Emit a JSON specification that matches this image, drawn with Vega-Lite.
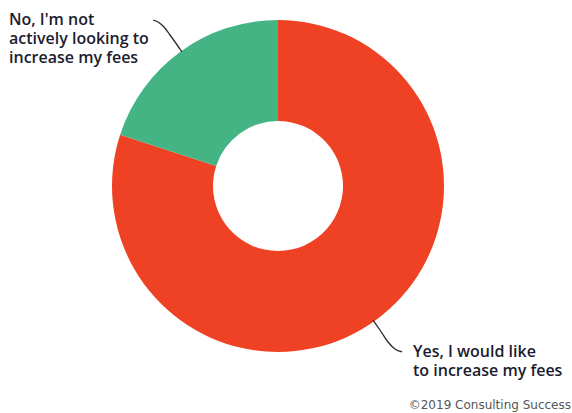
{
  "$schema": "https://vega.github.io/schema/vega-lite/v6.json",
  "width": 572,
  "height": 413,
  "padding": 0,
  "autosize": {"type": "none"},
  "background": "white",
  "config": {"view": {"stroke": null}},
  "datasets": {
    "slices": [
      {"answer": "Yes, I would like to increase my fees", "value": 80, "order": 1, "cx": 278, "cy": 186},
      {"answer": "No, I'm not actively looking to increase my fees", "value": 20, "order": 2, "cx": 278, "cy": 186}
    ],
    "labels": [
      {"text": ["No, I'm not", "actively looking to", "increase my fees"], "x": 9, "y": 12},
      {"text": ["Yes, I would like", "to increase my fees"], "x": 413, "y": 344}
    ],
    "leaders": [
      {"id": "no", "x": 153, "y": 20},
      {"id": "no", "x": 158, "y": 22},
      {"id": "no", "x": 163, "y": 26},
      {"id": "no", "x": 170, "y": 35},
      {"id": "no", "x": 182, "y": 52},
      {"id": "yes", "x": 373, "y": 320},
      {"id": "yes", "x": 380, "y": 330},
      {"id": "yes", "x": 388, "y": 342},
      {"id": "yes", "x": 395, "y": 349},
      {"id": "yes", "x": 402, "y": 352}
    ],
    "credit": [{"text": "©2019 Consulting Success", "x": 571, "y": 405}]
  },
  "resolve": {"scale": {"color": "independent"}},
  "layer": [
    {
      "data": {"name": "slices"},
      "mark": {"type": "arc", "outerRadius": 166, "innerRadius": 65, "stroke": null},
      "encoding": {
        "x": {"field": "cx", "type": "quantitative", "scale": {"domain": [0, 572]}, "axis": null},
        "y": {"field": "cy", "type": "quantitative", "scale": {"domain": [0, 413], "reverse": true}, "axis": null},
        "theta": {"field": "value", "type": "quantitative", "stack": true},
        "order": {"field": "order", "type": "quantitative"},
        "color": {
          "field": "answer",
          "type": "nominal",
          "scale": {
            "domain": ["Yes, I would like to increase my fees", "No, I'm not actively looking to increase my fees"],
            "range": ["#EF4123", "#45B485"]
          },
          "legend": null
        }
      }
    },
    {
      "data": {"name": "leaders"},
      "mark": {"type": "line", "interpolate": "monotone", "color": "#2b2b2b", "strokeWidth": 1.3},
      "encoding": {
        "x": {"field": "x", "type": "quantitative", "scale": {"domain": [0, 572]}, "axis": null},
        "y": {"field": "y", "type": "quantitative", "scale": {"domain": [0, 413], "reverse": true}, "axis": null},
        "detail": {"field": "id", "type": "nominal"}
      }
    },
    {
      "data": {"name": "labels"},
      "mark": {"type": "text", "align": "left", "baseline": "top", "font": "Open Sans", "fontSize": 16, "fontWeight": 600, "lineHeight": 19, "color": "#1c1c30"},
      "encoding": {
        "x": {"field": "x", "type": "quantitative", "scale": {"domain": [0, 572]}, "axis": null},
        "y": {"field": "y", "type": "quantitative", "scale": {"domain": [0, 413], "reverse": true}, "axis": null},
        "text": {"field": "text"}
      }
    },
    {
      "data": {"name": "credit"},
      "mark": {"type": "text", "align": "right", "baseline": "middle", "font": "DejaVu Sans", "fontSize": 12, "letterSpacing": 1.1, "color": "#555555"},
      "encoding": {
        "x": {"field": "x", "type": "quantitative", "scale": {"domain": [0, 572]}, "axis": null},
        "y": {"field": "y", "type": "quantitative", "scale": {"domain": [0, 413], "reverse": true}, "axis": null},
        "text": {"field": "text"}
      }
    }
  ]
}
